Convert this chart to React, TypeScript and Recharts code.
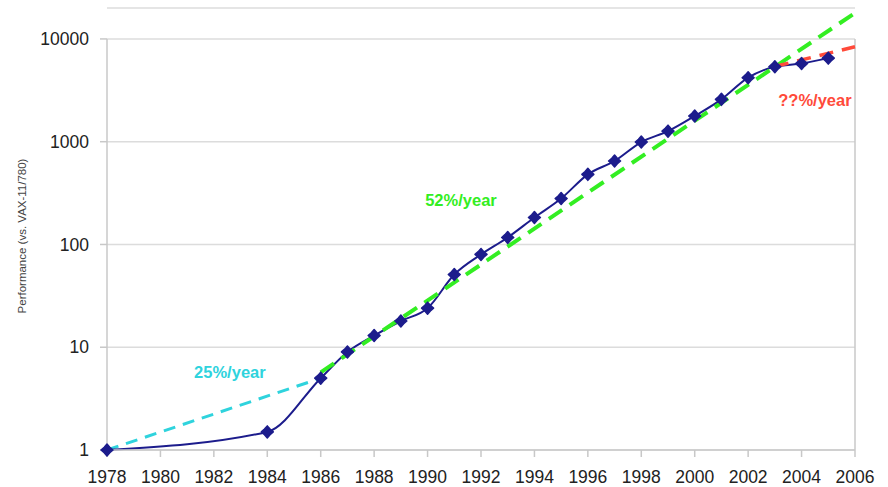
import React from 'react';
import { LineChart, Line, XAxis, YAxis, CartesianGrid, ReferenceLine, ReferenceDot } from 'recharts';

const years = [1978, 1984, 1986, 1987, 1988, 1989, 1990, 1991, 1992, 1993, 1994, 1995, 1996, 1997, 1998, 1999, 2000, 2001, 2002, 2003, 2004, 2005];
const performance = [1, 1.5, 5, 9, 13, 18, 24, 51, 80, 117, 183, 280, 481, 649, 993, 1267, 1779, 2584, 4195, 5364, 5764, 6505];

const trend25Years = [1978, 1986];
const trend25Values = [1, 5];
const trend52Years = [1986, 2006];
const trend52Values = [5.7, 17900];
const trendQYears = [2003, 2006];
const trendQValues = [5400, 8400];

const xTicks = [1978, 1980, 1982, 1984, 1986, 1988, 1990, 1992, 1994, 1996, 1998, 2000, 2002, 2004, 2006];
const yTicks = [1, 10, 100, 1000, 10000];

const annotations = [
  { x: 1982.6, y: 5.7, text: '25%/year', color: '#2fd3dd' },
  { x: 1991.25, y: 271, text: '52%/year', color: '#33ee22' },
  { x: 2004.5, y: 2550, text: '??%/year', color: '#ff4a3a' },
];

const yAxisTitle = 'Performance (vs. VAX-11/780)';

type Row = { year: number; perf?: number; t25?: number; t52?: number; tq?: number };

const buildData = (): Row[] => {
  const map = new Map<number, Row>();
  const get = (y: number) => {
    if (!map.has(y)) map.set(y, { year: y });
    return map.get(y)!;
  };
  years.forEach((y, i) => { get(y).perf = performance[i]; });
  trend25Years.forEach((y, i) => { get(y).t25 = trend25Values[i]; });
  trend52Years.forEach((y, i) => { get(y).t52 = trend52Values[i]; });
  trendQYears.forEach((y, i) => { get(y).tq = trendQValues[i]; });
  return Array.from(map.values()).sort((a, b) => a.year - b.year);
};

const data = buildData();

const Diamond = (props: any) => {
  const { cx, cy, value } = props;
  if (cx == null || cy == null || value == null) return null;
  const s = 6;
  const w = 2.8;
  return (
    <path
      d={`M${cx},${cy - s} L${cx + w},${cy - w} L${cx + s},${cy} L${cx + w},${cy + w} L${cx},${cy + s} L${cx - w},${cy + w} L${cx - s},${cy} L${cx - w},${cy - w} Z`}
      fill="#1c1c8c"
      stroke="#1c1c8c"
      strokeWidth={1.5}
      strokeLinejoin="round"
    />
  );
};

const FONT = '"Liberation Sans", Arial, sans-serif';
const AXIS_GRAY = '#c8c8c8';

export default function App() {
  return (
    <div style={{ position: 'absolute', left: 0, top: 0, width: 888, height: 487, background: '#fff' }}>
      <LineChart
        width={888}
        height={487}
        data={data}
        margin={{ top: 8, right: 33, bottom: 0, left: 0 }}
      >
        <CartesianGrid vertical={false} stroke="#dcdcdc" strokeWidth={1.5} />
        <XAxis
          dataKey="year"
          type="number"
          domain={[1978, 2006]}
          ticks={xTicks}
          height={37}
          tickSize={7}
          tickMargin={14}
          stroke={AXIS_GRAY}
          axisLine={{ stroke: AXIS_GRAY, strokeWidth: 1.5 }}
          tickLine={{ stroke: AXIS_GRAY, strokeWidth: 1.5 }}
          tick={{ fill: '#222', fontSize: 17.5, fontFamily: FONT }}
          interval={0}
        />
        <YAxis
          type="number"
          scale="log"
          domain={[1, 20000]}
          ticks={yTicks}
          width={107}
          axisLine={false}
          tickSize={7}
          tickMargin={11}
          tickLine={{ stroke: AXIS_GRAY, strokeWidth: 1.5 }}
          tick={{ fill: '#222', fontSize: 17.5, fontFamily: FONT }}
          interval={0}
        />
        <ReferenceLine segment={[{ x: 1978, y: 1 }, { x: 1978, y: 10000 }]} stroke={AXIS_GRAY} strokeWidth={1.5} />
        <ReferenceLine segment={[{ x: 2006, y: 1 }, { x: 2006, y: 10000 }]} stroke={AXIS_GRAY} strokeWidth={1.5} />
        <Line
          dataKey="t25"
          type="linear"
          stroke="#2fd3dd"
          strokeWidth={3}
          strokeDasharray="12 8"
          dot={false}
          connectNulls
          isAnimationActive={false}
        />
        <Line
          dataKey="perf"
          type="monotone"
          stroke="#1c1c8c"
          strokeWidth={2}
          dot={<Diamond />}
          activeDot={false}
          connectNulls
          isAnimationActive={false}
        />
        <Line
          dataKey="t52"
          type="linear"
          stroke="#33ee22"
          strokeWidth={4}
          strokeDasharray="16 9"
          dot={false}
          connectNulls
          isAnimationActive={false}
        />
        <Line
          dataKey="tq"
          type="linear"
          stroke="#ff4a3a"
          strokeWidth={3.5}
          strokeDasharray="14 9"
          dot={false}
          connectNulls
          isAnimationActive={false}
        />
        {annotations.map((a) => (
          <ReferenceDot
            key={a.text}
            x={a.x}
            y={a.y}
            r={0}
            fill="none"
            stroke="none"
            label={{
              value: a.text,
              position: 'center',
              style: { fill: a.color, fontSize: 16.5, fontWeight: 'bold', fontFamily: FONT },
            }}
          />
        ))}
      </LineChart>
      <svg width={40} height={487} style={{ position: 'absolute', left: 0, top: 0, pointerEvents: 'none' }}>
        <text
          x={0}
          y={0}
          transform="translate(26 236) rotate(-90)"
          textAnchor="middle"
          fontFamily={FONT}
          fontSize={11.5}
          fill="#444"
        >
          {yAxisTitle}
        </text>
      </svg>
    </div>
  );
}
